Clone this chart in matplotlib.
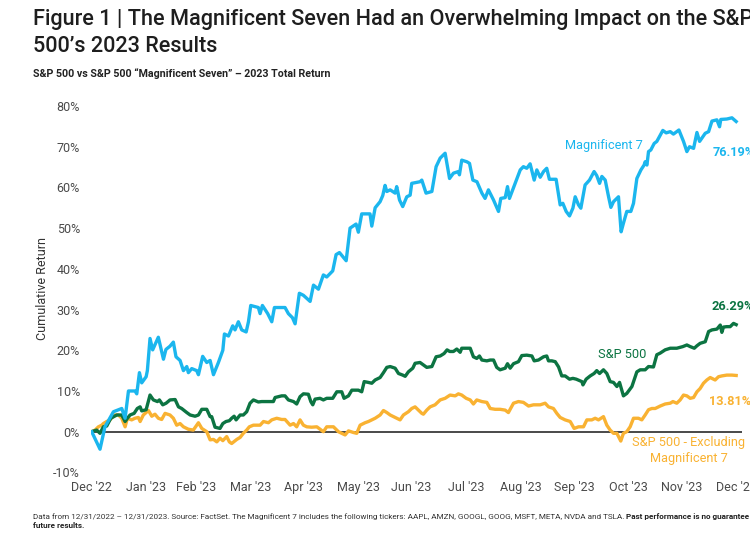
import matplotlib
matplotlib.use("Agg")
import matplotlib.pyplot as plt
import pandas as pd
import numpy as np

# ---------------- data (days since 2022-12-31, cumulative return %) ----------------
start_date = "2022-12-31"

mag7_days = [0, 4.7, 7.5, 12.3, 17, 18.9, 20.8, 24.5, 25.5, 27, 28.3, 30.8, 31.5, 33, 34.5, 37.7,
             40.6, 42, 44.3, 46.2, 47.7, 50, 51.9, 53.8, 54.7, 56.6, 59.4, 60.4, 62.8, 65.1, 67,
             68.9, 71.7, 74.2, 75.1, 77.4, 79.8, 81.1, 83, 84.9, 87.4, 88.7, 90, 94.3, 95.3, 96.6,
             99.6, 101.9, 103.4, 109.4, 111.3, 113.6, 115.1, 117.5, 119.8, 123.6, 125.5, 128.3,
             131.1, 133, 136.4, 138.3, 140.2, 144, 146.2, 149.6, 150.9, 152.8, 157.5, 158.5,
             160.4, 163.2, 164.7, 166, 167, 168.9, 171.7, 172.6, 174.2, 176, 178.3, 180.2, 181.1,
             185.8, 186.8, 189.2, 192.5, 194.9, 197.2, 200, 202.5, 204.7, 207.5, 208.1, 209.4,
             212.3, 213.8, 215.7, 218, 220.8, 222.6, 224.5, 227.4, 230.2, 231.5, 234, 235.3,
             236.4, 239.6, 242.5, 244.3, 246.2, 248.1, 250.4, 251.9, 253.8, 255.7, 257.5, 259,
             262.8, 265.1, 266.6, 268.5, 270.4, 272.3, 273.6, 275.5, 276.8, 279.2, 281.7, 284.3,
             285.8, 287.4, 288.7, 290.6, 292.5, 293.8, 295.3, 298.1, 299.6, 300.9, 302.8, 305.1,
             306.6, 308.5, 310.8, 312.6, 313.2, 314.2, 315.1, 316.4, 318.3, 319.8, 321.3, 323.2,
             325.1, 327.4, 329.2, 332.3, 334.9, 336.8, 338.3, 340.6, 342.5, 344, 347.2, 349.1,
             351, 353.8, 355.3, 356, 359.4, 362.3, 364.7]
mag7_vals = [0, -4.3, 1.2, 4.9, 5.7, 3.3, 10, 10, 9.3, 14.5, 12, 13.5, 15, 22.9, 20.1, 23.2,
             17.8, 20.2, 21, 22, 18.4, 17.5, 15, 16, 14.5, 15.5, 15, 14, 18.5, 17, 17.5,
             14, 17, 20, 24, 23.5, 26, 25, 27, 25, 24.5, 27, 31, 30.5, 29, 31,
             29, 27, 30.5, 30.5, 29, 28, 26.5, 34, 33.5, 32, 36, 35,
             38.5, 38, 39.5, 43.5, 44, 42, 50, 51, 49, 53.5, 53.5, 50.5,
             55, 56.5, 58, 60.5, 59, 59.4, 58.6, 60.2, 56.9, 55.3, 57.7, 58.1, 61,
             61.4, 61.8, 58.6, 59, 65.1, 67.2, 68.4, 62.2, 63.5, 63.9, 63.1, 66.7,
             66.3, 65.9, 61.8, 61.4, 58.6, 57.3, 59.4, 56.9, 54.1, 57.3, 57.5, 60.2,
             57.3, 61, 64.3, 65.1, 64.7, 65.8, 61.8, 64.3, 62.5, 63.9, 64.7, 62,
             62, 55.7, 56.1, 54.1, 53, 54.9, 57.7, 55.7, 54.9, 60.6, 61.8, 63.9,
             62.9, 61, 62.7, 61.8, 57.7, 55.1, 56.5, 57.7, 49.1, 51.2, 54.1, 54.1,
             56.1, 62.2, 64.3, 65.5, 66.3, 65.5, 68.8, 69.2, 70.8, 71.3, 72.5, 74,
             73.4, 73.7, 73.1, 74.1, 71.3, 68.8, 70, 69.6, 73.5, 71.3, 73.3, 73.7,
             76.3, 76.6, 74.9, 76.7, 76.8, 77.1, 76.19]

spx_days = [0, 2.8, 4.7, 6.6, 8.5, 10.8, 14.2, 17, 18.9, 20.2, 21.7, 24, 25.8, 27.4, 28.3, 30.8,
            33, 34.9, 37.2, 38.3, 40.2, 42.1, 44.3, 47.2, 49.1, 50.9, 53.8, 55.7, 58.5, 60.4,
            62.3, 65.1, 67, 67.9, 69.8, 72.6, 74.2, 76, 77.9, 79.2, 80.6, 81.7, 84, 85.8, 87.7,
            89.6, 91.5, 94.3, 96.2, 102.8, 103.8, 107.5, 109.4, 111.3, 114.2, 116, 117.9, 119.8,
            122.6, 124, 125.1, 126.4, 129.2, 131.1, 133, 136.4, 138.7, 141.5, 142.8, 145.3,
            147.2, 150.9, 152.8, 154.2, 156.6, 158.5, 160.4, 163.2, 165.1, 167, 168.9, 171.7,
            173.6, 176, 177.4, 179.2, 181.7, 183, 185.8, 187.7, 189.6, 192.5, 194.9, 197.2,
            199.4, 201.1, 202.6, 204.7, 206.6, 208.5, 209.4, 211.3, 214.2, 216, 217.9, 219.4,
            220.8, 223.6, 225.5, 227.4, 229.2, 231.1, 234, 235.3, 236.8, 238.7, 241.5, 243.4,
            246.2, 249.1, 250.4, 252.8, 255.7, 257.5, 258.5, 260.4, 262.3, 264.2, 266, 267.9,
            270.4, 272.3, 274.2, 277.4, 278, 279.8, 282.1, 284.3, 285.8, 287.4, 289.6, 291.5,
            293.4, 295.3, 297.2, 298.7, 300, 300.9, 302.8, 305.7, 308.5, 310.4, 313.2, 315.1,
            317.9, 319.8, 321.7, 324.5, 327.4, 331.1, 334.5, 336.8, 338.7, 341, 342.5, 344.3,
            347.2, 349.1, 351, 353.8, 355.7, 356.6, 357.5, 359.4, 361.3, 363.2, 364.7]
spx_vals = [0, 0.4, -0.4, 1.2, 1.4, 3.3, 4.1, 4.1, 2.5, 3.3, 4.1, 4.5, 5.7, 6.1, 5.1, 5.4,
            9.0, 7.8, 7.4, 7.8, 6.6, 7.0, 7.8, 7.9, 6.1, 5.7, 4.7, 4.1, 3.8, 4.1,
            5.5, 5.5, 3.7, 3.7, 1.1, 0.8, 2.0, 2.5, 2.7, 3.3, 3.8, 2.9, 4.1, 4.1, 4.9,
            7.0, 7.8, 7.3, 7.4, 7.4, 8.4, 8.8, 8.8, 7.8, 7.4, 6.8, 8.6, 9.3,
            9.2, 7.4, 6.6, 8.0, 8.2, 7.8, 8.2, 8.2, 9.8, 9.8, 8.2, 8.8,
            10.2, 10.2, 9.8, 12.3, 12.1, 11.9, 12.7, 13.3, 14.5, 15.8, 16.0, 15.6,
            14.3, 13.9, 13.6, 14.7, 15.6, 16.8, 17.0, 16.4, 15.8, 16.0, 18.4, 18.6,
            19.2, 20.1, 19.7, 19.7, 20.3, 19.5, 20.5, 20.5, 20.5, 18.4, 18.0, 18.6,
            17.6, 17.4, 17.6, 17.6, 15.8, 15.2, 15.6, 16.7, 15.6, 16.7, 17.2, 18.7,
            18.8, 18.6, 17.4, 17.6, 18.4, 18.6, 17.4, 17.4, 17.2, 15.9, 13.7, 13.7,
            12.9, 13.1, 12.9, 12.3, 11.5, 12.9, 13.7, 14.3, 15.0, 14.3, 15.2, 14.3,
            12.3, 12.1, 11.1, 12.1, 10.2, 8.8, 9.4, 11.1, 14.7, 15.2, 15.2, 16.0,
            15.9, 18.9, 19.3, 20.1, 20.5, 20.5, 20.9, 21.3, 20.9, 20.5, 21.1, 21.7,
            22.1, 24.6, 25.0, 25.2, 26.2, 24.4, 25.7, 25.8, 25.8, 26.6, 26.29]

exm7_days = [0, 1.9, 3.8, 5.7, 6.6, 8.5, 10.4, 12.6, 15.1, 17, 18.9, 20.2, 22.6, 24.5, 26.4,
             27.4, 29.2, 32.1, 34, 35.8, 37.7, 39.6, 41.5, 44.3, 46.2, 48.1, 50, 51.9, 54.7,
             57.5, 60.4, 62.3, 65.1, 67, 68.9, 70.8, 72.6, 74.2, 76.4, 77.9, 79.2, 82.1, 84,
             85.8, 87.7, 89.2, 91.5, 95.3, 97.2, 100, 101.9, 104.7, 107.5, 109.4, 112.3, 114.2,
             116, 117.9, 119.8, 121.7, 124.5, 127.4, 129.2, 131.1, 133, 136.8, 139.6, 141.5,
             143.4, 145.3, 148.1, 150, 151.9, 154.7, 156.6, 158.5, 160.4, 163.2, 165.1, 167,
             168.9, 172.6, 174.5, 176.4, 179.2, 181.1, 183, 184.9, 186.8, 187.7, 189.6, 191.5,
             194.3, 197.2, 200, 202.8, 205.7, 207.5, 209.4, 211.9, 214.2, 216, 217.9, 220.8,
             223.6, 225.5, 228.3, 231.1, 234, 235.8, 238.7, 241.5, 244.3, 247.2, 250, 253.8,
             256.6, 258.5, 261.3, 263.2, 265.1, 267.9, 270.8, 273, 275.5, 278.3, 280.2, 283,
             284.9, 286.8, 289.6, 291.5, 293.4, 295.3, 297.2, 299.4, 300.9, 302.8, 304.7,
             306.6, 309.4, 311.3, 313.2, 315.1, 317, 318.9, 321.7, 324.5, 327.4, 328.9, 331.1,
             333, 334.9, 336.8, 338.7, 340.6, 342.5, 344.3, 346.2, 348.1, 350, 352.8, 354.7,
             356.6, 359.4, 362.3, 364.7]
exm7_vals = [0, 0.4, 1.2, 1.6, 2.0, 2.5, 2.9, 4.1, 4.1, 3.3, 1.2, 3.3, 2.9, 3.3, 3.5,
             2.5, 4.1, 5.2, 3.8, 4.3, 3.3, 3.0, 4.5, 4.1, 3.3, 1.6, 2.0, 1.2, 0.6,
             0.4, 2.2, 0.8, 0, -2.0, -1.9, -2.5, -1.6, -2.2, -1.2, -2.5, -2.9, -1.9, -1.4,
             -0.4, 0.4, 1.2, 1.6, 1.6, 2.5, 2.2, 2.9, 3.3, 3.0, 3.0, 1.6, 2.0,
             1.2, 2.9, 1.6, 1.2, 1.1, 1.2, 0.6, 0, 1.2, 1.2, 0, -0.4,
             -0.8, 0.2, -0.2, -0.4, 1.6, 2.2, 2.5, 2.9, 3.3, 4.1, 5.2, 4.7,
             4.1, 3.3, 2.9, 4.1, 4.9, 5.7, 6.1, 5.3, 4.5, 4.3, 5.3, 6.1,
             6.6, 7.8, 8.2, 9.0, 8.8, 9.3, 9.0, 8.2, 7.8, 6.8, 7.8, 7.4,
             7.2, 5.7, 5.5, 5.5, 5.3, 4.7, 7.0, 7.4, 7.2, 6.3, 6.6, 6.6,
             7.0, 6.1, 5.7, 4.5, 3.5, 2.9, 2.5, 0.8, 1.2, 1.2, 2.9, 2.9,
             3.3, 2.9, 3.7, 1.6, 0.4, -0.4, -0.4, -2.3, -0.4, 0, 1.2,
             3.3, 3.3, 2.9, 4.1, 5.4, 5.7, 5.7, 6.3, 6.8, 7.0, 7.4, 7.0,
             7.8, 9.0, 8.8, 8.2, 8.4, 9.8, 10.6, 11.9, 12.7, 13.3, 12.7, 13.5,
             13.7, 13.9, 13.9, 13.81]

tick_dates = ["2022-12-31", "2023-01-31", "2023-02-28", "2023-03-31", "2023-04-30", "2023-05-31",
              "2023-06-30", "2023-07-31", "2023-08-31", "2023-09-30", "2023-10-31", "2023-11-30",
              "2023-12-31"]
tick_labels = ["Dec '22", "Jan '23", "Feb '23", "Mar '23", "Apr '23", "May '23", "Jun '23",
               "Jul '23", "Aug '23", "Sep '23", "Oct '23", "Nov '23", "Dec '23"]
y_ticks = [-10, 0, 10, 20, 30, 40, 50, 60, 70, 80]

series_names = ["Magnificent 7", "S&P 500", "S&P 500 - Excluding\nMagnificent 7"]
end_labels = ["76.19%", "26.29%", "13.81%"]

# ---------------- style ----------------
BLUE = "#1bb6ee"
GREEN = "#0c7442"
ORANGE = "#f9b232"
FONT = "Roboto"

W, H = 750, 536
fig = plt.figure(figsize=(W / 100, H / 100), dpi=100)
fig.patch.set_facecolor("white")

def fx(px):
    return px / W

def fy(py):
    return 1 - py / H

left_px, right_px, top_px, bot_px = 91, 742, 106, 472.4
ax = fig.add_axes([fx(left_px), fy(bot_px), fx(right_px - left_px), (bot_px - top_px) / H])

t0 = pd.Timestamp(start_date)
def to_dates(days):
    return t0 + pd.to_timedelta(np.asarray(days, dtype=float), unit="D")

ax.axhline(0, color="#3a3a3a", lw=1.3, zorder=1)
ax.plot(to_dates(exm7_days), exm7_vals, color=ORANGE, lw=2.4, zorder=3, solid_joinstyle="round")
ax.plot(to_dates(spx_days), spx_vals, color=GREEN, lw=2.4, zorder=4, solid_joinstyle="round")
ax.plot(to_dates(mag7_days), mag7_vals, color=BLUE, lw=2.4, zorder=5, solid_joinstyle="round")

ax.set_xlim(t0 - pd.Timedelta(days=0.4), t0 + pd.Timedelta(days=368))
ax.set_ylim(-10, 80)
ax.set_xticks(pd.to_datetime(tick_dates))
ax.set_xticklabels(tick_labels)
ax.set_yticks(y_ticks)
ax.set_yticklabels([f"{v}%" for v in y_ticks])
for s in ax.spines.values():
    s.set_visible(False)
ax.tick_params(axis="both", length=0, labelsize=9, labelcolor="#4a4a4a")
ax.tick_params(axis="x", pad=6.5)
ax.tick_params(axis="y", pad=8)
for lab in ax.get_xticklabels() + ax.get_yticklabels():
    lab.set_fontfamily(FONT)

fig.text(fx(43), fy(289), "Cumulative Return", rotation=90, ha="center", va="center",
         fontsize=9, color="#333333", family=FONT)

# series labels
fig.text(fx(603.5), fy(146), series_names[0], ha="center", va="center", fontsize=9.2,
         color=BLUE, family=FONT)
fig.text(fx(622.5), fy(355), series_names[1], ha="center", va="center", fontsize=9.2,
         color=GREEN, family=FONT)
fig.text(fx(689), fy(450.3), series_names[2], ha="center", va="center", fontsize=9.2,
         color=ORANGE, family=FONT, linespacing=1.25)

fig.text(fx(713), fy(152.7), end_labels[0], ha="left", va="center", fontsize=9.2,
         color=BLUE, family=FONT, weight="bold")
fig.text(fx(711.7), fy(307), end_labels[1], ha="left", va="center", fontsize=9.2,
         color=GREEN, family=FONT, weight="bold")
fig.text(fx(709), fy(401.7), end_labels[2], ha="left", va="center", fontsize=9.2,
         color=ORANGE, family=FONT, weight="bold")

# title and subtitle
fig.text(fx(32.7), fy(25.5), "Figure 1 | The Magnificent Seven Had an Overwhelming Impact on the S&P",
         ha="left", va="baseline", fontsize=15.6, color="#1e1e1e", family=FONT, weight="medium")
fig.text(fx(32.7), fy(51.5), "500\u2019s 2023 Results",
         ha="left", va="baseline", fontsize=15.6, color="#1e1e1e", family=FONT, weight="medium")
fig.text(fx(32.7), fy(77.3), "S&P 500 vs S&P 500 \u201cMagnificent Seven\u201d \u2013 2023 Total Return",
         ha="left", va="baseline", fontsize=7.65, color="#222222", family=FONT, weight="bold")

# footer
foot1 = fig.text(fx(32.7), fy(519.3),
                 "Data from 12/31/2022 \u2013 12/31/2023. Source: FactSet. The Magnificent 7 includes the "
                 "following tickers: AAPL, AMZN, GOOGL, GOOG, MSFT, META, NVDA and TSLA. ",
                 ha="left", va="baseline", fontsize=5.9, color="#333333", family=FONT)
fig.canvas.draw()
bb = foot1.get_window_extent(renderer=fig.canvas.get_renderer())
fig.text(bb.x1 / W, fy(519.3), "Past performance is no guarantee of",
         ha="left", va="baseline", fontsize=5.9, color="#222222", family=FONT, weight="bold")
fig.text(fx(32.7), fy(527.8), "future results.",
         ha="left", va="baseline", fontsize=5.9, color="#222222", family=FONT, weight="bold")

fig.savefig("out.png", dpi=100, facecolor="white")
